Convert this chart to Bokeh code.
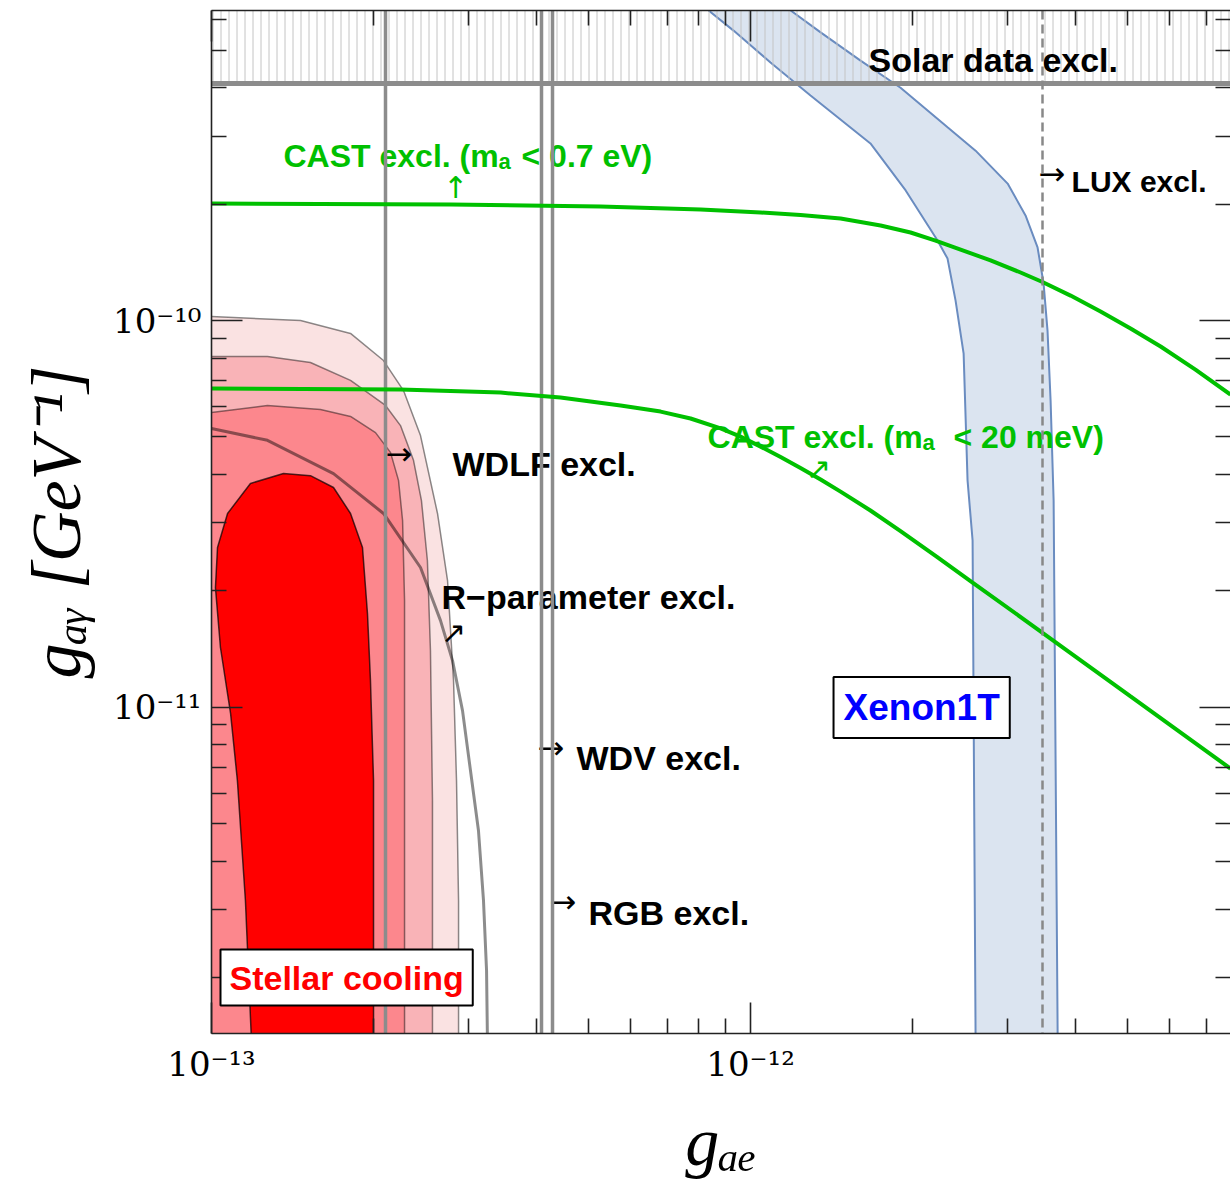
import math
from bokeh.plotting import figure
from bokeh.models import Range1d, LogAxis, FixedTicker, CustomJSTickFormatter, Label
from bokeh.core.properties import value
from bokeh.embed import file_html
from bokeh.resources import INLINE

# ---------------- data ----------------
gae_range = (1e-13, 7.77e-12)
gag_range = (1.433e-12, 6.335e-10)

gae_major = [1e-13, 1e-12]
gae_minor = [2e-13, 3e-13, 4e-13, 5e-13, 6e-13, 7e-13, 8e-13, 9e-13,
             2e-12, 3e-12, 4e-12, 5e-12, 6e-12, 7e-12]
gag_major = [1e-11, 1e-10]
gag_minor = [2e-12, 3e-12, 4e-12, 5e-12, 6e-12, 7e-12, 8e-12, 9e-12,
             2e-11, 3e-11, 4e-11, 5e-11, 6e-11, 7e-11, 8e-11, 9e-11,
             2e-10, 3e-10, 4e-10, 5e-10, 6e-10]

x_title = "g\u2090\u2091"                       # g_ae
y_title = "g\u2090\u1d67 [GeV\u207b\u00b9]"      # g_a-gamma [GeV^-1]

# solar data exclusion (g_agamma above this)
solar_gag = 4.1e-10
solar_top = 1e-9

# vertical limits on g_ae
wdlf_gae = 2.1e-13
wdv_gae = 4.1e-13
rgb_gae = 4.3e-13
lux_gae = 3.48e-12

# CAST (m_a < 0.7 eV)
cast07_gae = [1e-13, 2.78e-13, 5.27e-13, 8.08e-13, 1.044e-12, 1.238e-12, 1.469e-12, 1.743e-12,
              1.981e-12, 2.204e-12, 2.453e-12, 2.788e-12, 3.169e-12, 3.48e-12, 3.924e-12,
              4.46e-12, 5.07e-12, 5.765e-12, 6.69e-12, 7.77e-12]
cast07_gag = [2.007e-10, 1.995e-10, 1.971e-10, 1.936e-10, 1.903e-10, 1.874e-10, 1.835e-10, 1.761e-10,
              1.689e-10, 1.610e-10, 1.526e-10, 1.430e-10, 1.331e-10, 1.258e-10, 1.160e-10,
              1.055e-10, 9.535e-11, 8.566e-11, 7.468e-11, 6.436e-11]

# CAST (m_a < 20 meV)
cast20_gae = [1e-13, 2.24e-13, 3.44e-13, 4.44e-13, 5.74e-13, 6.81e-13, 7.74e-13, 8.80e-13,
              9.58e-13, 1.044e-12, 1.137e-12, 1.238e-12, 1.349e-12, 1.469e-12, 1.669e-12,
              1.898e-12, 2.214e-12, 2.582e-12, 3.497e-12, 5.07e-12, 7.77e-12]
cast20_gag = [6.67e-11, 6.63e-11, 6.51e-11, 6.32e-11, 6.03e-11, 5.815e-11, 5.58e-11, 5.26e-11,
              5.01e-11, 4.72e-11, 4.436e-11, 4.155e-11, 3.88e-11, 3.61e-11, 3.226e-11,
              2.855e-11, 2.453e-11, 2.101e-11, 1.551e-11, 1.066e-11, 6.94e-12]

# Xenon1T band boundaries
xenon_left_gae = [8.36e-13, 9.30e-13, 1.089e-12, 1.292e-12, 1.669e-12, 1.940e-12, 2.223e-12,
                  2.320e-12, 2.401e-12, 2.485e-12, 2.527e-12, 2.582e-12, 2.615e-12, 2.615e-12]
xenon_left_gag = [6.335e-10, 5.62e-10, 4.65e-10, 3.82e-10, 2.87e-10, 2.17e-10, 1.61e-10,
                  1.446e-10, 1.126e-10, 8.21e-11, 3.86e-11, 2.70e-11, 1.433e-12, 1.2e-12]
xenon_right_gae = [1.187e-12, 1.349e-12, 1.600e-12, 1.898e-12, 2.320e-12, 2.615e-12, 2.999e-12,
                   3.237e-12, 3.408e-12, 3.497e-12, 3.556e-12, 3.603e-12, 3.650e-12, 3.713e-12, 3.713e-12]
xenon_right_gag = [6.335e-10, 5.56e-10, 4.70e-10, 4.00e-10, 3.16e-10, 2.75e-10, 2.26e-10,
                   1.87e-10, 1.545e-10, 1.247e-10, 9.42e-11, 6.21e-11, 3.42e-11, 1.433e-12, 1.2e-12]

# Stellar cooling regions (boundary from the left edge down to the bottom)
sc1_gae = [1e-13, 1.463e-13, 1.811e-13, 2.085e-13, 2.271e-13, 2.442e-13, 2.626e-13,
           2.741e-13, 2.812e-13, 2.848e-13, 2.873e-13, 2.873e-13]
sc1_gag = [1.024e-10, 1.0e-10, 9.26e-11, 7.88e-11, 6.59e-11, 5.04e-11, 3.17e-11,
           2.126e-11, 1.172e-11, 6.46e-12, 3.16e-12, 1.2e-12]
sc2_gae = [1e-13, 1.270e-13, 1.526e-13, 1.811e-13, 2.103e-13, 2.242e-13, 2.370e-13,
           2.452e-13, 2.515e-13, 2.548e-13, 2.570e-13, 2.570e-13]
sc2_gag = [8.07e-11, 8.07e-11, 7.79e-11, 7.0e-11, 6.03e-11, 5.35e-11, 4.35e-11,
           3.42e-11, 2.395e-11, 1.402e-11, 5.74e-12, 1.2e-12]
sc3_gae = [1e-13, 1.270e-13, 1.593e-13, 1.811e-13, 2.015e-13, 2.148e-13, 2.223e-13,
           2.262e-13, 2.281e-13, 2.281e-13]
sc3_gag = [5.78e-11, 6.03e-11, 5.89e-11, 5.65e-11, 5.13e-11, 4.56e-11, 3.86e-11,
           3.04e-11, 1.887e-11, 1.2e-12]
sc4_gae = [1.191e-13, 1.156e-13, 1.117e-13, 1.085e-13, 1.039e-13, 1.017e-13, 1.026e-13,
           1.071e-13, 1.181e-13, 1.360e-13, 1.526e-13, 1.684e-13, 1.811e-13, 1.906e-13,
           1.947e-13, 1.972e-13, 1.998e-13, 1.998e-13]
sc4_gag = [1.2e-12, 3.16e-12, 6.46e-12, 9.63e-12, 1.427e-11, 2.039e-11, 2.588e-11,
           3.17e-11, 3.79e-11, 4.02e-11, 3.97e-11, 3.70e-11, 3.17e-11, 2.588e-11,
           1.747e-11, 1.172e-11, 6.46e-12, 1.2e-12]

# R-parameter bound
rpar_gae = [1e-13, 1.270e-13, 1.684e-13, 2.085e-13, 2.442e-13, 2.660e-13, 2.800e-13,
            2.922e-13, 3.023e-13, 3.128e-13, 3.196e-13, 3.238e-13, 3.252e-13]
rpar_gag = [5.26e-11, 4.90e-11, 4.02e-11, 3.17e-11, 2.298e-11, 1.675e-11, 1.320e-11,
            9.80e-12, 6.86e-12, 4.80e-12, 3.16e-12, 2.085e-12, 1.3e-12]

# ---------------- figure ----------------
LEFT_PAD = 1e-14  # closes the stellar polygons outside the frame

p = figure(width=1230, height=1184, x_axis_type="log", y_axis_type="log",
           x_range=Range1d(*gae_range), y_range=Range1d(*gag_range),
           output_backend="svg", toolbar_location=None,
           min_border_left=211, min_border_right=0, min_border_top=10, min_border_bottom=151)
p.outline_line_color = None
p.xgrid.visible = False
p.ygrid.visible = False
p.background_fill_color = "white"
p.border_fill_color = "white"


def at(px, py):
    """position (in the reference picture's pixels) -> data coordinates"""
    return 10 ** (-13 + (px - 211) / 539.0), 10 ** (-10 + (320 - py) / 386.7)


fmt = CustomJSTickFormatter(code="""
const e = Math.round(Math.log10(tick));
const m = {'-':'\u207b','0':'\u2070','1':'\u00b9','2':'\u00b2','3':'\u00b3','4':'\u2074',
           '5':'\u2075','6':'\u2076','7':'\u2077','8':'\u2078','9':'\u2079'};
return '10' + String(e).split('').map(c => m[c]).join('');
""")


def style_axis(ax, show_labels, show_line=True):
    ax.major_tick_in = 31
    ax.major_tick_out = 0
    ax.minor_tick_in = 15
    ax.minor_tick_out = 0
    ax.major_tick_line_color = "#222222"
    ax.minor_tick_line_color = "#222222"
    ax.major_tick_line_width = 1.6
    ax.minor_tick_line_width = 1.6
    ax.axis_line_color = "#222222" if show_line else None
    ax.axis_line_width = 1.6
    if show_labels:
        ax.formatter = fmt
        ax.major_label_text_font = "DejaVu Serif"
        ax.major_label_text_font_size = "34px"
        ax.major_label_text_color = "black"
        ax.major_label_standoff = 10
        ax.axis_label_text_font = "Liberation Serif"
        ax.axis_label_text_font_style = "italic"
        ax.axis_label_text_color = "black"
    else:
        ax.major_label_text_font_size = "2px"
        ax.major_label_text_color = None
        ax.major_label_standoff = 0


xb = p.xaxis[0]
xb.ticker = FixedTicker(ticks=gae_major, minor_ticks=gae_minor)
style_axis(xb, True)
xb.axis_label = x_title
xb.axis_label_text_font_size = "68px"
xb.axis_label_standoff = 17
yl = p.yaxis[0]
yl.ticker = FixedTicker(ticks=gag_major, minor_ticks=gag_minor)
style_axis(yl, True)
yl.axis_label = y_title
yl.axis_label_text_font_size = "70px"
yl.axis_label_standoff = 15

xt = LogAxis(ticker=FixedTicker(ticks=gae_major, minor_ticks=gae_minor))
style_axis(xt, False)
p.add_layout(xt, "above")
yr = LogAxis(ticker=FixedTicker(ticks=gag_major, minor_ticks=gag_minor))
style_axis(yr, False, show_line=False)
p.add_layout(yr, "right")

# ---- stellar cooling regions ----
bound_kw = dict(line_color="black", line_alpha=0.45, line_width=1.5)
for gx, gy, col in [(sc1_gae, sc1_gag, "#fae2e2"), (sc2_gae, sc2_gag, "#f9b3b7"),
                    (sc3_gae, sc3_gag, "#fc878d")]:
    px_ = [LEFT_PAD] + gx + [LEFT_PAD]
    py_ = [gy[0]] + gy + [gy[-1]]
    p.patch(px_, py_, fill_color=col, line_color=None)
    p.line(gx, gy, **bound_kw)
p.patch(sc4_gae, sc4_gag, fill_color="#ff0000", line_color="black", line_alpha=0.7, line_width=1.5)

# R-parameter
p.line(rpar_gae, rpar_gag, line_color="black", line_alpha=0.45, line_width=3)

# Xenon1T band
p.patch(xenon_left_gae + xenon_right_gae[::-1], xenon_left_gag + xenon_right_gag[::-1],
        fill_color="#dbe4f0", line_color=None)
p.line(xenon_left_gae, xenon_left_gag, line_color="#6a8cc0", line_width=2)
p.line(xenon_right_gae, xenon_right_gag, line_color="#6a8cc0", line_width=2)

# Solar hatch
p.hstrip(y0=[solar_gag], y1=[solar_top], fill_alpha=0, line_alpha=0,
         hatch_pattern="vertical_line", hatch_color="#c4c4c4", hatch_scale=8, hatch_weight=1)

# ---- texts (glyphs, under the vertical lines) ----
sans = value("Liberation Sans")
arrow_font = value("DejaVu Sans")


def texts(items, **kw):
    xs, ys, ts = [], [], []
    for t, px, py in items:
        x, y = at(px, py)
        xs.append(x); ys.append(y); ts.append(t)
    p.text(x=xs, y=ys, text=ts, **kw)


texts([("Solar data excl.", 868, 59), ("WDLF excl.", 452, 463),
       ("R\u2212parameter excl.", 441, 596), ("WDV excl.", 576, 757), ("RGB excl.", 588, 912)],
      text_font=sans, text_font_style="bold", text_font_size="34px", text_color="black",
      text_align="left", text_baseline="alphabetic")
texts([("LUX excl.", 1071, 181)],
      text_font=sans, text_font_style="bold", text_font_size="30px", text_color="black",
      text_align="left", text_baseline="alphabetic")
texts([("\u2192", 1038, 173), ("\u2192", 385, 453), ("\u2192", 537, 747), ("\u2192", 549, 901)],
      text_font=arrow_font, text_font_size="32px", text_color="black",
      text_align="left", text_baseline="middle")
texts([("\u2197", 453, 632)], text_font=arrow_font, text_font_size="30px", text_color="black",
      text_align="center", text_baseline="middle")
GREEN = "#00c000"
texts([("\u2191", 455, 187), ("\u2197", 818, 468)], text_font=arrow_font, text_font_size="30px",
      text_color=GREEN, text_align="center", text_baseline="middle")
texts([("CAST excl. (m", 283, 155), ("< 0.7 eV)", 521, 155),
       ("CAST excl. (m", 707, 436), ("< 20 meV)", 953, 436)],
      text_font=sans, text_font_style="bold", text_font_size="32px", text_color=GREEN,
      text_align="left", text_baseline="alphabetic")
texts([("a", 498, 161), ("a", 922, 442)],
      text_font=sans, text_font_style="bold", text_font_size="22px", text_color=GREEN,
      text_align="left", text_baseline="alphabetic")

# ---- vertical / horizontal limit lines ----
p.vspan(x=[wdlf_gae, wdv_gae, rgb_gae], line_color="#8c8c8c", line_width=3.5)
p.hspan(y=[solar_gag], line_color="#8c8c8c", line_width=5)

# CAST lines
p.line(cast07_gae, cast07_gag, line_color=GREEN, line_width=4)
p.line(cast20_gae, cast20_gag, line_color=GREEN, line_width=4)

# LUX
p.vspan(x=[lux_gae], line_color="#888888", line_width=2.5, line_dash="9 5")

# ---- boxed labels ----
x0, y0 = at(833, 707)
p.add_layout(Label(x=x0, y=y0, text="Xenon1T", text_font="Liberation Sans", text_font_style="bold",
                   text_font_size="37px", text_color="#0000ff", text_align="left",
                   text_baseline="middle", background_fill_color="white",
                   border_line_color="black", border_line_width=2, padding=10))
x0, y0 = at(220, 977)
p.add_layout(Label(x=x0, y=y0, text="Stellar cooling", text_font="Liberation Sans",
                   text_font_style="bold", text_font_size="34px", text_color="#ff0000",
                   text_align="left", text_baseline="middle", background_fill_color="white",
                   border_line_color="black", border_line_width=2, padding=9))

open("out.html", "w").write(file_html(p, INLINE))
